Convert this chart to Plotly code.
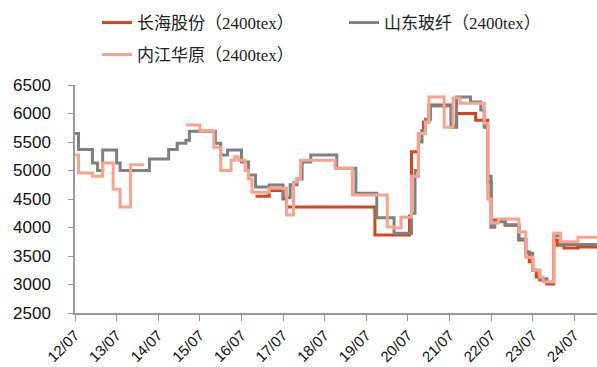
import plotly.graph_objects as go

# ---- data (change points of step series, monthly dates) ----
names = ["长海股份（2400tex）", "山东玻纤（2400tex）", "内江华原（2400tex）"]
colors = ["#D9441A", "#808080", "#F8A390"]

red_dates = ["2016-11-01", "2017-03-01", "2017-07-01", "2017-08-01", "2019-09-15",
             "2020-07-15", "2020-08-01", "2020-10-01", "2020-11-15", "2021-01-01",
             "2021-07-15", "2021-09-01", "2022-02-15", "2022-06-01", "2022-07-01",
             "2022-08-01", "2022-11-01", "2023-03-01", "2023-05-01", "2023-06-01",
             "2023-07-01", "2023-08-01", "2023-09-01", "2023-11-01", "2024-01-01",
             "2024-02-01", "2024-04-01", "2024-08-01", "2025-01-15"]
red_vals = [4550, 4650, 4500, 4360, 3870,
            4200, 5330, 5650, 5850, 6150,
            5780, 6000, 5880, 4800, 4010,
            4130, 4040, 3780, 3570, 3400,
            3250, 3130, 3080, 3010, 3780,
            3690, 3640, 3660, 3660]

gray_dates = ["2012-07-01", "2012-08-01", "2012-12-01", "2013-01-15", "2013-03-01",
              "2013-07-01", "2013-08-01", "2014-04-15", "2014-10-01", "2014-12-15",
              "2015-03-01", "2015-04-01", "2015-11-15", "2016-01-01", "2016-03-01",
              "2016-07-01", "2016-09-01", "2016-11-01", "2017-03-01", "2017-07-01",
              "2017-09-01", "2017-11-01", "2017-12-15", "2018-03-01", "2018-10-15",
              "2019-04-01", "2019-10-01", "2020-03-01", "2020-08-01", "2020-09-01",
              "2020-10-01", "2020-11-01", "2020-12-01", "2021-01-15", "2021-07-15",
              "2021-09-01", "2022-01-01", "2022-04-01", "2022-05-01", "2022-06-01",
              "2022-07-01", "2022-08-01", "2022-11-01", "2023-03-01", "2023-05-01",
              "2023-07-01", "2023-09-01", "2023-11-01", "2024-01-01", "2024-03-01",
              "2024-08-01", "2025-01-15"]
gray_vals = [5650, 5370, 5130, 5000, 5360,
             5130, 5000, 5200, 5370, 5480,
             5530, 5690, 5480, 5270, 5360,
             5150, 4920, 4710, 4745, 4520,
             4750, 4850, 5150, 5270, 5040,
             4600, 4170, 3900, 4250, 5000,
             5500, 5700, 5900, 6130, 5760,
             6290, 6200, 6060, 5760, 4900,
             4010, 4100, 4050, 3800, 3550,
             3250, 3100, 3030, 3850, 3700,
             3700, 3700]

pink_dates = ["2012-07-01", "2012-08-01", "2012-12-01", "2013-03-01", "2013-06-01",
              "2013-08-01", "2013-11-01", "2014-03-01", "2014-03-02", "2015-03-01",
              "2015-07-01", "2015-11-01", "2016-01-01", "2016-04-01", "2016-05-01",
              "2016-06-01", "2016-08-01", "2016-09-01", "2016-10-01", "2017-03-01",
              "2017-08-01", "2017-10-01", "2017-11-01", "2017-12-01", "2018-10-01",
              "2019-03-01", "2020-01-01", "2020-03-01", "2020-05-01", "2020-08-01",
              "2020-10-01", "2020-12-01", "2021-01-01", "2021-05-15", "2021-08-01",
              "2021-10-01", "2022-05-01", "2022-06-01", "2022-07-01", "2022-09-01",
              "2023-03-01", "2023-05-01", "2023-07-01", "2023-09-01", "2023-10-01",
              "2024-01-01", "2024-03-01", "2024-08-01", "2025-01-15"]
pink_vals = [5270, 4955, 4900, 5130, 4670,
             4360, 5100, 5100, None, 5800,
             5700, 5410, 5000, 5180, 5240,
             5180, 5000, 4850, 4620, 4690,
             4220, 4800, 4850, 5180, 5040,
             4570, 4010, 3990, 4180, 4900,
             5650, 5850, 6290, 5760, 6270,
             6180, 5830, 4500, 4080, 4150,
             3920, 3480, 3250, 3130, 3050,
             3900, 3750, 3830, 3830]

y_ticks = [2500, 3000, 3500, 4000, 4500, 5000, 5500, 6000, 6500]

fig = go.Figure()
series = [(red_dates, red_vals, "legend"), (gray_dates, gray_vals, "legend2"),
          (pink_dates, pink_vals, "legend3")]
for (d, v, lg), n, c in zip(series, names, colors):
    fig.add_trace(go.Scatter(x=d, y=v, name=n, mode="lines", showlegend=True,
                             line=dict(color=c, width=3, shape="hv"),
                             connectgaps=False, legend=lg))

legend_font = dict(family="Liberation Serif, Noto Sans CJK SC", size=17, color="#222")


def leg(px, py):
    return dict(orientation="h", xref="container", yref="container",
                x=px / 597, y=1 - py / 367, xanchor="left", yanchor="middle",
                font=legend_font, bgcolor="rgba(0,0,0,0)", visible=True)


fig.update_layout(
    width=597, height=367,
    showlegend=True,
    margin=dict(l=75, r=0, t=85, b=54),
    paper_bgcolor="white", plot_bgcolor="white",
    legend=leg(97, 23),
    legend2=leg(344, 23),
    legend3=leg(97, 55),
    xaxis=dict(type="date", range=["2012-07-01", "2025-01-15"],
               tick0="2012-07-01", dtick="M12", tickformat="%y/%m",
               tickangle=-45, ticks="outside", ticklen=6, tickcolor="#999",
               showline=True, linecolor="#999", linewidth=1.5,
               showgrid=False, zeroline=False,
               tickfont=dict(family="Liberation Sans, Arial", size=15, color="#111")),
    yaxis=dict(range=[2500, 6500], tickvals=y_ticks, ticks="outside", ticklen=5,
               tickcolor="#999", showline=True, linecolor="#999", linewidth=1.5,
               showgrid=False, zeroline=False, ticklabelstandoff=14,
               tickfont=dict(family="Liberation Sans, Arial", size=17, color="#111")),
)

fig.write_html("out.html")
